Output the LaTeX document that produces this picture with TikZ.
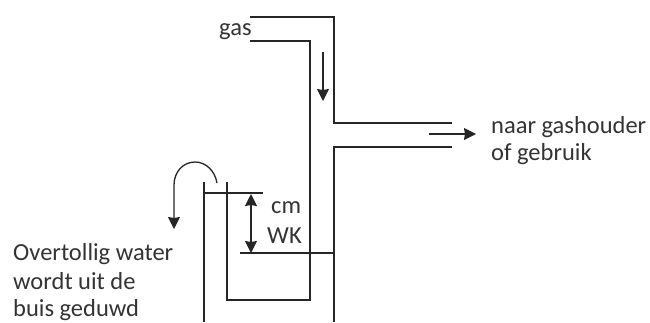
\documentclass[tikz,border=0pt]{standalone}
\usepackage{fontspec}
\setmainfont{Carlito}
\usetikzlibrary{positioning, arrows.meta}

\tikzset{
	wall/.style={line width=1.3pt, draw=black!85},
	flow/.style={-{Stealth[length=12pt, width=12pt, inset=1pt]}, line width=1.3pt, draw=black!85},
	both/.style={{Stealth[length=12pt, width=12pt, inset=1pt]}-{Stealth[length=12pt, width=12pt, inset=1pt]}, line width=1.3pt, draw=black!85},
	lbl/.style={inner sep=0pt, anchor=base west, text=black!80}
}

\begin{document}
\begin{tikzpicture}[x=1pt, y=-1pt, font=\fontsize{24.5}{28}\selectfont]
	\useasboundingbox (0, 0) rectangle (650, 322);

	\node[lbl] (gas) at (219, 35) {gas};
	\node[lbl] (cm) at (271, 213) {cm};
	\node[lbl] (WK) at (267, 243) {WK};
	\node[lbl] (naar) at (491, 133) {naar gashouder};
	\node[lbl] (gebruik) at (491, 160) {of gebruik};
	\node[lbl] (water1) at (13, 260) {Overtollig water};
	\node[lbl] (water2) at (13, 289) {wordt uit de};
	\node[lbl] (water3) at (13, 316.5) {buis geduwd};

	% gas pipe
	\draw[wall] (250, 17) -- (334, 17) -- (334, 123) -- (452, 123);
	\draw[wall] (250, 41) -- (310, 41) -- (310, 300) -- (227, 300) -- (227, 182);
	\draw[wall] (452, 147) -- (334, 147) -- (334, 322);
	\draw[wall] (204, 182) -- (204, 322);

	% water levels
	\draw[wall] (204, 193) -- (263, 193);
	\draw[wall] (240, 253) -- (334, 253);

	\coordinate (gasA) at (323, 52);
	\coordinate (gasB) at (323, 101);
	\coordinate (outA) at (429, 134);
	\coordinate (outB) at (476, 134);
	\coordinate (topWK) at (251, 194);
	\coordinate (botWK) at (251, 253);
	\coordinate (overA) at (217, 183);
	\coordinate (overB) at (174, 229);

	\draw[flow] (gasA) -- (gasB);
	\draw[flow] (outA) -- (outB);
	\draw[both] (topWK) -- (botWK);
	\draw[flow] (overA) .. controls (215, 171) and (206, 162) .. (195, 162)
		.. controls (183, 162) and (174, 172) .. (174, 185) -- (overB);
\end{tikzpicture}
\end{document}
